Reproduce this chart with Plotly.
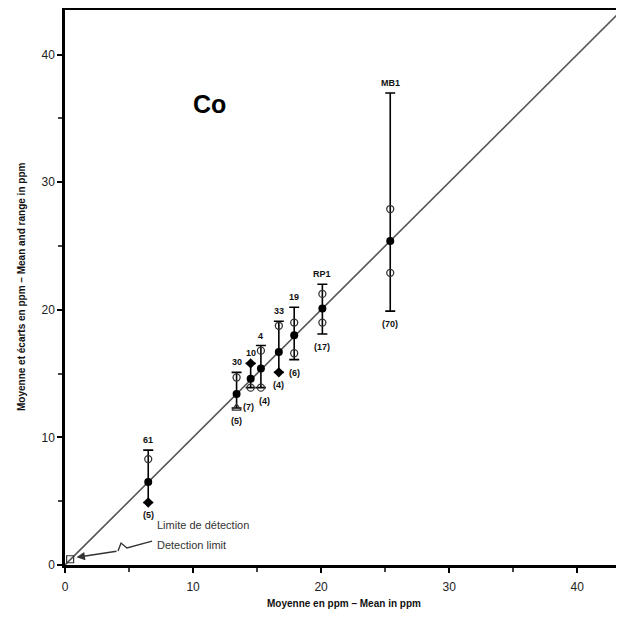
import plotly.graph_objects as go

# ---- data ----
labels = ["61", "30", "10", "4", "33", "19", "RP1", "MB1"]
n_labels = ["(5)", "(5)", "(7)", "(4)", "(4)", "(6)", "(17)", "(70)"]
x_mean = [6.5, 13.4, 14.5, 15.3, 16.7, 17.9, 20.1, 25.4]
y_mean = [6.5, 13.4, 14.6, 15.4, 16.7, 18.0, 20.1, 25.4]
y_max = [9.0, 15.1, 15.8, 17.2, 19.1, 20.2, 22.0, 37.0]
y_min = [4.9, 12.3, 13.9, 13.9, 15.1, 16.1, 18.1, 19.9]

# individual laboratory values shown as open circles
open_x = [6.5, 13.4, 14.5, 15.3, 15.3, 16.7, 17.9, 17.9, 20.1, 20.1, 25.4, 25.4]
open_y = [8.3, 14.7, 13.9, 16.8, 13.9, 18.75, 19.0, 16.6, 21.25, 19.0, 27.9, 22.9]
# values shown as solid marks at range ends
solid_x = [6.5, 14.5, 16.7]
solid_y = [4.9, 15.8, 15.1]
# value shown as open triangle
tri_x = [13.4]
tri_y = [12.3]

detect_x = [0.4]
detect_y = [0.45]

x_ticks = [0, 10, 20, 30, 40]
y_ticks = [0, 10, 20, 30, 40]
axis_max = 43.5

fig = go.Figure()

# 1:1 line
fig.add_trace(go.Scatter(x=[0, axis_max], y=[0, axis_max], mode="lines",
                         line=dict(color="#555555", width=1.6), hoverinfo="skip",
                         showlegend=False))

# ranges with caps + means
fig.add_trace(go.Scatter(
    x=x_mean, y=y_mean, mode="markers",
    marker=dict(color="black", size=8, symbol="circle"),
    error_y=dict(type="data", symmetric=False,
                 array=[a - m for a, m in zip(y_max, y_mean)],
                 arrayminus=[m - b for m, b in zip(y_mean, y_min)],
                 width=5, thickness=1.6, color="black"),
    showlegend=False))

fig.add_trace(go.Scatter(x=open_x, y=open_y, mode="markers",
                         marker=dict(symbol="circle-open", size=7, color="#333333",
                                     line=dict(width=1.3)),
                         showlegend=False))
fig.add_trace(go.Scatter(x=solid_x, y=solid_y, mode="markers",
                         marker=dict(symbol="diamond", size=8, color="black"),
                         showlegend=False))
fig.add_trace(go.Scatter(x=tri_x, y=tri_y, mode="markers",
                         marker=dict(symbol="triangle-up-open", size=8, color="#333333",
                                     line=dict(width=1.3)),
                         showlegend=False))
fig.add_trace(go.Scatter(x=detect_x, y=detect_y, mode="markers",
                         marker=dict(symbol="square-open", size=7, color="#333333",
                                     line=dict(width=1.2)),
                         showlegend=False))

annotations = []
for lab, xm, ymx in zip(labels, x_mean, y_max):
    annotations.append(dict(x=xm, y=ymx, text=f"<b>{lab}</b>", showarrow=False,
                            yshift=10, font=dict(size=9, color="#111111",
                                                 family="Liberation Sans")))
for lab, xm, ymn in zip(n_labels, x_mean, y_min):
    ys, xs = -13, 0
    if lab == "(7)":
        ys, xs = -19, -2
    if lab == "(4)" and xm < 16:
        xs = 4
    annotations.append(dict(x=xm, y=ymn, text=f"<b>{lab}</b>", showarrow=False,
                            yshift=ys, xshift=xs,
                            font=dict(size=9, color="#111111", family="Liberation Sans")))

# element label
annotations.append(dict(x=11.3, y=36.1, text="<b>Co</b>", showarrow=False,
                        font=dict(size=25, color="black", family="Liberation Sans")))
# detection limit text
annotations.append(dict(x=7.0, y=3.1, text="Limite de détection", showarrow=False,
                        xanchor="left", font=dict(size=11, color="#333333",
                                                  family="Liberation Sans")))
annotations.append(dict(x=7.0, y=1.6, text="Detection limit", showarrow=False,
                        xanchor="left", font=dict(size=11, color="#333333",
                                                  family="Liberation Sans")))
# arrow head
annotations.append(dict(x=0.9, y=0.6, ax=4.14, ay=1.09, axref="x", ayref="y",
                        xref="x", yref="y", text="", showarrow=True,
                        arrowhead=2, arrowsize=1.2, arrowwidth=1.4,
                        arrowcolor="#333333"))
# axis titles
annotations.append(dict(xref="paper", yref="paper", x=0.5, y=0, yshift=-46,
                        text="<b>Moyenne en ppm – Mean in ppm</b>", showarrow=False,
                        font=dict(size=10, color="#111111", family="Liberation Sans")))
annotations.append(dict(xref="paper", yref="paper", x=0, y=0.5, xshift=-51,
                        textangle=-90,
                        text="<b>Moyenne et écarts en ppm – Mean and range in ppm</b>",
                        showarrow=False,
                        font=dict(size=10, color="#111111", family="Liberation Sans")))

shapes = [dict(type="path", xref="x", yref="y",
               path="M 6.8 1.875 L 4.84 1.33 L 4.375 1.72 L 4.14 1.09",
               line=dict(color="#333333", width=1.4))]

axis_common = dict(range=[0, axis_max], showgrid=False, zeroline=False,
                   showline=True, linewidth=2.5, linecolor="black", mirror=True,
                   ticks="outside", ticklen=5, tickwidth=1.5, tickcolor="black",
                   automargin=False,
                   minor=dict(dtick=5, ticks="outside", ticklen=4, tickwidth=1.5,
                              tickcolor="#444444"),
                   tickfont=dict(size=12, color="#222222", family="Liberation Sans"))

# page body has an 8px margin; size the figure so the plot area lands where the
# reference has it without producing scrollbars
fig.update_layout(
    width=616, height=609,
    margin=dict(l=57, r=2, t=2, b=52),
    plot_bgcolor="white", paper_bgcolor="white",
    xaxis=dict(tickvals=x_ticks, ticklabelstandoff=4, **axis_common),
    yaxis=dict(tickvals=y_ticks, **axis_common),
    annotations=annotations, shapes=shapes,
    showlegend=False,
)

fig.write_html("out.html")
